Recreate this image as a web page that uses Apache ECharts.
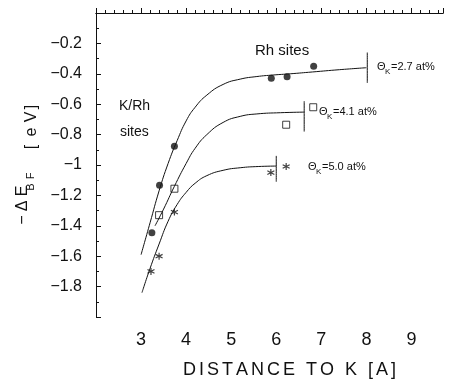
<!DOCTYPE html>
<html>
<head>
<meta charset="utf-8">
<script src="https://cdn.jsdelivr.net/npm/echarts@6/dist/echarts.min.js"></script>
<style>
  html, body { margin: 0; padding: 0; background: #fff; }
  #chart { width: 449px; height: 382px; }
</style>
</head>
<body>
<div id="chart"></div>
<script>
// measured points
const rhX = [3.24, 3.41, 3.74, 5.89, 6.24, 6.83];
const rhY = [-1.445, -1.134, -0.877, -0.43, -0.42, -0.35];
const sqX = [3.40, 3.74, 6.22, 6.82];
const sqY = [-1.33, -1.156, -0.735, -0.62];
const stX = [3.22, 3.40, 3.74, 5.88, 6.22];
const stY = [-1.70, -1.60, -1.31, -1.05, -1.01];

// drawn curves
const fit27X = [3.0, 3.2, 3.4, 3.6, 3.8, 4.0, 4.2, 4.46, 4.82, 5.2, 5.57, 5.93, 6.31, 6.8, 7.4, 8.0];
const fit27Y = [-1.59, -1.38, -1.17, -0.99, -0.84, -0.71, -0.62, -0.54, -0.47, -0.435, -0.418, -0.408, -0.40, -0.388, -0.373, -0.36];
const fit41X = [3.31, 3.5, 3.74, 4.0, 4.2, 4.46, 4.82, 5.2, 5.57, 6.09, 6.62];
const fit41Y = [-1.40, -1.29, -1.14, -0.99, -0.89, -0.80, -0.72, -0.68, -0.664, -0.656, -0.652];
const fit50X = [3.02, 3.2, 3.4, 3.6, 3.8, 4.0, 4.2, 4.46, 4.82, 5.2, 5.6, 6.0];
const fit50Y = [-1.84, -1.68, -1.52, -1.37, -1.26, -1.18, -1.12, -1.07, -1.035, -1.018, -1.01, -1.007];

// end bars: x, top, bottom
const bar27 = [8.02, -0.26, -0.46];
const bar41 = [6.62, -0.58, -0.78];
const bar50 = [6.0, -0.94, -1.11];

const xLabels = [3, 4, 5, 6, 7, 8, 9];

const zip = (xs, ys) => xs.map((x, i) => [x, ys[i]]);
const bar = (b) => [[b[0], b[1]], [b[0], b[2]]];

const font = "Liberation Sans";
const ink = "#111";
const asterisk = "path://M0,-5L0,5M-4.5,-2.6L4.5,2.6M-4.5,2.6L4.5,-2.6";

const chart = echarts.init(document.getElementById("chart"));

const curve = (data) => ({
  type: "line",
  data,
  smooth: 0.5,
  showSymbol: false,
  silent: true,
  lineStyle: { color: ink, width: 1 },
});

const txt = (x, y, text, size, extra) => ({
  type: "text",
  x,
  y,
  style: Object.assign({ text, font: `${size}px ${font}`, fill: ink, textVerticalAlign: "middle" }, extra || {}),
});

// letter-spaced line of text, laid out one glyph at a time
const ctx = document.createElement("canvas").getContext("2d");
const spaced = (x, y, text, size, gap) => {
  ctx.font = `${size}px ${font}`;
  const kids = [];
  let cx = x;
  for (const ch of text) {
    if (ch !== " ") kids.push(txt(cx, y, ch, size));
    cx += ctx.measureText(ch).width + gap;
  }
  return { type: "group", children: kids };
};

const theta = (x, y, val) => ({
  type: "group",
  children: [
    txt(x, y, "Θ", 11),
    txt(x + 8, y + 5, "K", 8),
    txt(x + 14, y, "=" + val + " at%", 11),
  ],
});

const c = { textAlign: "center" };

chart.setOption({
  animation: false,
  grid: { left: 96, right: 6, top: 13, bottom: 65 },
  xAxis: [
    {
      type: "value",
      min: 2,
      max: 9.7,
      interval: 1,
      axisLine: { lineStyle: { color: ink, width: 1 } },
      axisTick: { inside: true, length: 5, lineStyle: { color: ink } },
      minorTick: { show: true, splitNumber: 5, length: 3, lineStyle: { color: ink } },
      splitLine: { show: false },
      axisLabel: {
        margin: 14,
        color: ink,
        fontFamily: font,
        fontSize: 18,
        formatter: (v) => (xLabels.includes(v) ? String(v) : ""),
      },
    },
    {
      type: "value",
      position: "top",
      min: 2,
      max: 9.7,
      axisLine: { show: true, onZero: false, lineStyle: { color: ink, width: 1 } },
      axisTick: { show: false },
      axisLabel: { show: false },
      splitLine: { show: false },
    },
  ],
  yAxis: {
    type: "value",
    min: -2,
    max: 0,
    interval: 0.2,
    axisLine: { show: true, onZero: false, lineStyle: { color: ink, width: 1 } },
    axisTick: { inside: true, length: 5, lineStyle: { color: ink } },
    minorTick: { show: true, splitNumber: 2, length: 3, lineStyle: { color: ink } },
    splitLine: { show: false },
    axisLabel: {
      margin: 14,
      color: ink,
      fontFamily: font,
      fontSize: 16,
      formatter: (v) => (v === 0 || v === -2 ? "" : String(Math.round(v * 10) / 10).replace("-", "\u2212")),
    },
  },
  series: [
    curve(zip(fit27X, fit27Y)),
    curve(zip(fit41X, fit41Y)),
    curve(zip(fit50X, fit50Y)),
    curve(bar(bar27)),
    curve(bar(bar41)),
    curve(bar(bar50)),
    {
      type: "scatter",
      data: zip(rhX, rhY),
      symbol: "circle",
      symbolSize: 7,
      itemStyle: { color: ink },
    },
    {
      type: "scatter",
      data: zip(sqX, sqY),
      symbol: "rect",
      symbolSize: 7,
      itemStyle: { color: "#fff", borderColor: ink, borderWidth: 1 },
    },
    {
      type: "scatter",
      data: zip(stX, stY),
      symbol: asterisk,
      symbolSize: 7,
      itemStyle: { color: "none", borderColor: ink, borderWidth: 1.2 },
    },
  ],
  graphic: [
    txt(255, 51, "Rh sites", 15),
    txt(119, 106, "K/Rh", 14),
    txt(120, 132, "sites", 14),
    theta(377, 67, "2.7"),
    theta(319, 112, "4.1"),
    theta(308, 167, "5.0"),
    spaced(183, 370, "DISTANCE TO K [A]", 18, 3),
    {
      type: "group",
      x: 27,
      y: 165,
      rotation: Math.PI / 2,
      children: [
        txt(-55, -4, "\u2212", 16, c),
        txt(-41, -4, "Δ", 16, c),
        txt(-26, -4, "E", 16, c),
        txt(-22, 4, "B", 11, c),
        txt(-11, 4, "F", 11, c),
        txt(18, 5, "[", 16, c),
        txt(33, 5, "e", 16, c),
        txt(48, 5, "V", 16, c),
        txt(58, 5, "]", 16, c),
      ],
    },
  ],
});
</script>
</body>
</html>
